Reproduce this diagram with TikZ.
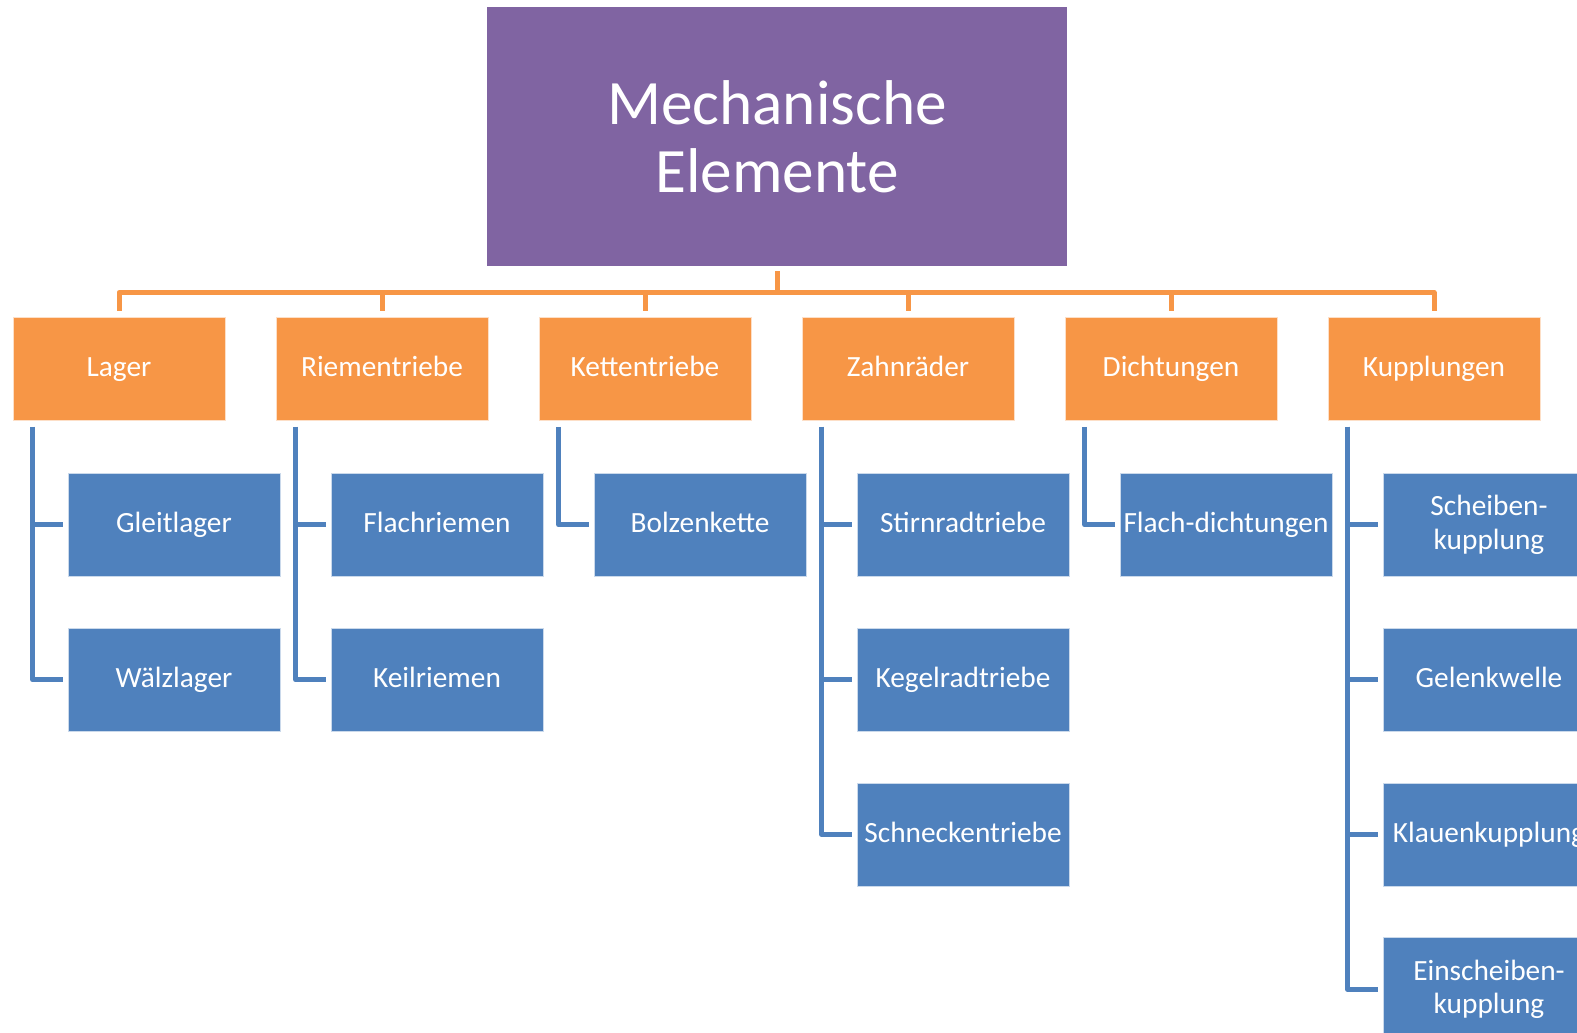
\documentclass[tikz,border=0pt]{standalone}
\usepackage{fontspec}
\setmainfont{Carlito}
\usetikzlibrary{positioning}
\definecolor{RootClr}{RGB}{128,100,162}
\definecolor{GroupClr}{RGB}{247,150,70}
\definecolor{ItemClr}{RGB}{79,129,189}

\begin{document}
\begin{tikzpicture}[x=0.02cm,y=0.02cm,
  rootbox/.style={fill=RootClr,text=white,minimum width=11.6cm,minimum height=5.18cm,
    align=center,font=\fontsize{36}{38.5}\selectfont},
  groupbox/.style={fill=GroupClr,draw=white!70!GroupClr,line width=0.5pt,text=white,
    minimum width=4.24cm,minimum height=2.06cm,inner sep=1pt,align=center,
    text height=0.88em,text depth=0pt,font=\fontsize{16.7}{19}\selectfont},
  itembox/.style={groupbox,fill=ItemClr,draw=white!70!ItemClr},
  twoline/.style={text height=,text depth=},
  groupline/.style={draw=GroupClr,line width=0.1cm,line join=round},
  itemline/.style={draw=ItemClr,line width=0.1cm,line join=round,shorten >=0.1cm},
  node distance=1.02cm]
\clip (0,0) rectangle (1577,-1032);

\node[rootbox] (root) at (777,-136.5) {Mechanische\\Elemente};

\node[groupbox] (lager) at (119,-369) {Lager};
\node[groupbox] (riemen) at (382,-369) {Riementriebe};
\node[groupbox] (ketten) at (645,-369) {Kettentriebe};
\node[groupbox] (zahn) at (908,-369) {Zahnräder};
\node[groupbox] (dicht) at (1171,-369) {Dichtungen};
\node[groupbox] (kuppl) at (1434,-369) {Kupplungen};

\foreach \g in {lager,riemen,ketten,zahn,dicht,kuppl}
  \draw[groupline,shorten >=0.12cm] (root.south) ++(0,-5) -- ++(0,-21) -| (\g.north);

% Lager
\node[itembox,below right=1.04cm and 1.1cm of lager.south west] (gleit) {Gleitlager};
\node[itembox,below=of gleit] (waelz) {Wälzlager};
% Riementriebe
\node[itembox,below right=1.04cm and 1.1cm of riemen.south west] (flach) {Flachriemen};
\node[itembox,below=of flach] (keil) {Keilriemen};
% Kettentriebe
\node[itembox,below right=1.04cm and 1.1cm of ketten.south west] (bolzen) {Bolzenkette};
% Zahnraeder
\node[itembox,below right=1.04cm and 1.1cm of zahn.south west] (stirn) {Stirnradtriebe};
\node[itembox,below=of stirn] (kegel) {Kegelradtriebe};
\node[itembox,below=of kegel] (schnecke) {Schneckentriebe};
% Dichtungen
\node[itembox,below right=1.04cm and 1.1cm of dicht.south west] (flachd) {Flach-dichtungen};
% Kupplungen
\node[itembox,twoline,below right=1.04cm and 1.1cm of kuppl.south west] (scheibe) {Scheiben-\\kupplung};
\node[itembox,below=of scheibe] (gelenk) {Gelenkwelle};
\node[itembox,below=of gelenk] (klauen) {Klauenkupplung};
\node[itembox,twoline,below=of klauen] (einscheibe) {Einscheiben-\\kupplung};

\coordinate[below right=0.12cm and 0.4cm of lager.south west] (lagerbus);
\coordinate[below right=0.12cm and 0.4cm of riemen.south west] (riemenbus);
\coordinate[below right=0.12cm and 0.4cm of ketten.south west] (kettenbus);
\coordinate[below right=0.12cm and 0.4cm of zahn.south west] (zahnbus);
\coordinate[below right=0.12cm and 0.4cm of dicht.south west] (dichtbus);
\coordinate[below right=0.12cm and 0.4cm of kuppl.south west] (kupplbus);

\draw[itemline] (lagerbus) |- (gleit.west);
\draw[itemline] (lagerbus) |- (waelz.west);
\draw[itemline] (riemenbus) |- (flach.west);
\draw[itemline] (riemenbus) |- (keil.west);
\draw[itemline] (kettenbus) |- (bolzen.west);
\draw[itemline] (zahnbus) |- (stirn.west);
\draw[itemline] (zahnbus) |- (kegel.west);
\draw[itemline] (zahnbus) |- (schnecke.west);
\draw[itemline] (dichtbus) |- (flachd.west);
\draw[itemline] (kupplbus) |- (scheibe.west);
\draw[itemline] (kupplbus) |- (gelenk.west);
\draw[itemline] (kupplbus) |- (klauen.west);
\draw[itemline] (kupplbus) |- (einscheibe.west);
\end{tikzpicture}
\end{document}
